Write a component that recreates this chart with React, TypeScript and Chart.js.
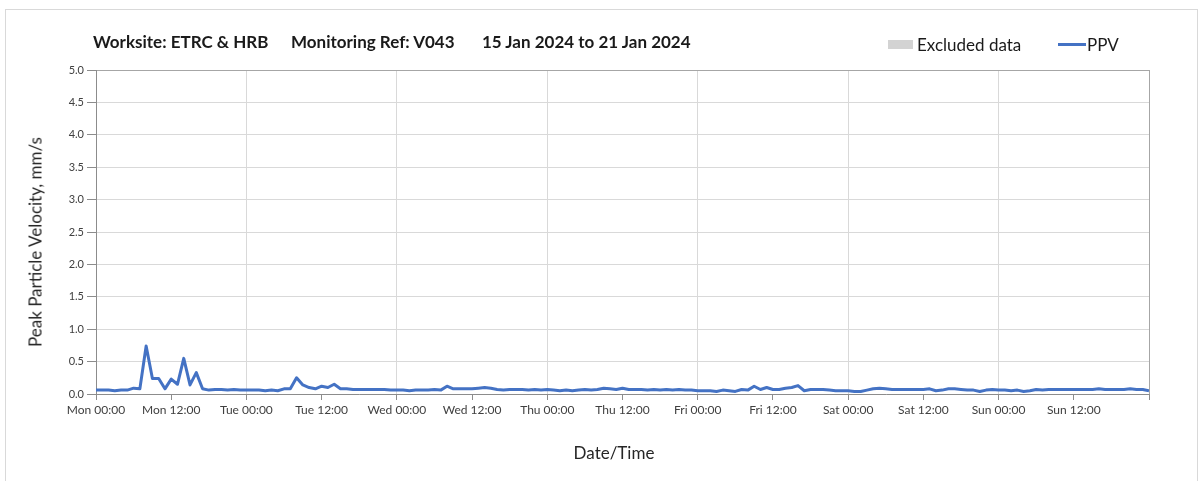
import React, { useEffect, useRef } from "react";
import { Chart, registerables } from "chart.js";

Chart.register(...registerables);

const TITLE_SITE = "Worksite: ETRC & HRB";
const TITLE_REF = "Monitoring Ref: V043";
const TITLE_DATES = "15 Jan 2024 to 21 Jan 2024";
const LEGEND_EXCLUDED = "Excluded data";
const LEGEND_PPV = "PPV";
const Y_TITLE = "Peak Particle Velocity, mm/s";
const X_TITLE = "Date/Time";

// x tick labels, every 12 hours
const TICK_LABELS = [
  "Mon 00:00", "Mon 12:00", "Tue 00:00", "Tue 12:00", "Wed 00:00", "Wed 12:00",
  "Thu 00:00", "Thu 12:00", "Fri 00:00", "Fri 12:00", "Sat 00:00", "Sat 12:00",
  "Sun 00:00", "Sun 12:00",
];

// hourly PPV readings (mm/s), Mon 00:00 .. next Mon 00:00
const PPV_MON = [
  0.06, 0.06, 0.06, 0.05, 0.06, 0.06, 0.09, 0.08, 0.74, 0.24, 0.24, 0.08,
  0.23, 0.15, 0.55, 0.14, 0.33, 0.08, 0.06, 0.07, 0.07, 0.06, 0.07, 0.06,
];
const PPV_TUE = [
  0.06, 0.06, 0.06, 0.05, 0.06, 0.05, 0.08, 0.08, 0.25, 0.14, 0.10, 0.08,
  0.12, 0.10, 0.15, 0.08, 0.08, 0.07, 0.07, 0.07, 0.07, 0.07, 0.07, 0.06,
];
const PPV_WED = [
  0.06, 0.06, 0.05, 0.06, 0.06, 0.06, 0.07, 0.06, 0.12, 0.08, 0.08, 0.08,
  0.08, 0.09, 0.10, 0.09, 0.07, 0.06, 0.07, 0.07, 0.07, 0.06, 0.07, 0.06,
];
const PPV_THU = [
  0.07, 0.06, 0.05, 0.06, 0.05, 0.06, 0.07, 0.06, 0.07, 0.09, 0.08, 0.07,
  0.09, 0.07, 0.07, 0.07, 0.06, 0.07, 0.06, 0.07, 0.06, 0.07, 0.06, 0.06,
];
const PPV_FRI = [
  0.05, 0.05, 0.05, 0.04, 0.06, 0.05, 0.04, 0.07, 0.06, 0.12, 0.07, 0.10,
  0.07, 0.07, 0.09, 0.10, 0.13, 0.05, 0.07, 0.07, 0.07, 0.06, 0.05, 0.05,
];
const PPV_SAT = [
  0.05, 0.04, 0.04, 0.06, 0.08, 0.09, 0.08, 0.07, 0.07, 0.07, 0.07, 0.07,
  0.07, 0.08, 0.05, 0.06, 0.08, 0.08, 0.07, 0.06, 0.06, 0.04, 0.06, 0.07,
];
const PPV_SUN = [
  0.06, 0.06, 0.05, 0.06, 0.04, 0.05, 0.07, 0.06, 0.07, 0.07, 0.07, 0.07,
  0.07, 0.07, 0.07, 0.07, 0.08, 0.07, 0.07, 0.07, 0.07, 0.08, 0.07, 0.07,
];
const PPV_END = [0.05];

const PPV = [
  ...PPV_MON, ...PPV_TUE, ...PPV_WED, ...PPV_THU, ...PPV_FRI, ...PPV_SAT, ...PPV_SUN, ...PPV_END,
];

const Y_MIN = 0;
const Y_MAX = 5;
const Y_STEP = 0.5;
const X_MAX_HOURS = 168;

const FONT = "Lato, 'Open Sans', sans-serif";
const LINE_COLOR = "#4472C4";

export default function App() {
  const canvasRef = useRef<HTMLCanvasElement | null>(null);

  useEffect(() => {
    if (!canvasRef.current) return;
    const chart = new Chart(canvasRef.current, {
      type: "line",
      data: {
        datasets: [
          {
            label: LEGEND_PPV,
            data: PPV.map((v, i) => ({ x: i, y: v })),
            borderColor: LINE_COLOR,
            backgroundColor: LINE_COLOR,
            borderWidth: 3,
            pointRadius: 0,
            tension: 0,
            borderJoinStyle: "round",
          },
        ],
      },
      options: {
        animation: false,
        responsive: false,
        maintainAspectRatio: false,
        layout: { padding: { left: 0, top: 70, right: 54, bottom: 0 } },
        plugins: {
          legend: { display: false },
          title: { display: false },
          tooltip: { enabled: false },
        },
        scales: {
          x: {
            type: "linear",
            min: 0,
            max: X_MAX_HOURS,
            afterFit: (scale: any) => {
              scale.height = 87;
            },
            ticks: {
              stepSize: 12,
              autoSkip: false,
              maxRotation: 0,
              padding: 3,
              color: "#404040",
              font: { family: FONT, size: 12 },
              callback: (value: any) => {
                const idx = Math.round(Number(value) / 12);
                return TICK_LABELS[idx] ?? "";
              },
            },
            grid: {
              drawTicks: true,
              tickLength: 6,
              tickColor: "#8c8c8c",
              color: (ctx: any) => {
                const v = ctx.tick ? ctx.tick.value : null;
                if (v === X_MAX_HOURS) return "#a6a6a6";
                if (v !== null && v % 24 === 0) return "#d9d9d9";
                return "rgba(0,0,0,0)";
              },
            },
            border: { display: true, color: "#8c8c8c", width: 1 },
          },
          y: {
            min: Y_MIN,
            max: Y_MAX,
            afterFit: (scale: any) => {
              scale.width = 96;
            },
            ticks: {
              stepSize: Y_STEP,
              padding: 3,
              color: "#404040",
              font: { family: FONT, size: 11 },
              callback: (value: any) => Number(value).toFixed(1),
            },
            grid: {
              drawTicks: true,
              tickLength: 9,
              tickColor: "#8c8c8c",
              color: (ctx: any) => {
                const v = ctx.tick ? ctx.tick.value : null;
                if (v === Y_MAX) return "#a6a6a6";
                return "#d9d9d9";
              },
            },
            border: { display: true, color: "#8c8c8c", width: 1 },
          },
        },
      },
    });
    return () => chart.destroy();
  }, []);

  const textBase: React.CSSProperties = {
    position: "absolute",
    fontFamily: FONT,
    whiteSpace: "pre",
    color: "#1a1a1a",
    lineHeight: 1,
  };

  return (
    <div
      style={{
        position: "fixed",
        left: 0,
        top: 0,
        width: 1203,
        height: 481,
        background: "#ffffff",
        overflow: "hidden",
      }}
    >
      <div
        style={{
          position: "absolute",
          left: 5,
          top: 9,
          width: 1193,
          height: 480,
          border: "1px solid #d9d9d9",
          boxSizing: "border-box",
        }}
      />
      <canvas
        ref={canvasRef}
        width={1203}
        height={481}
        style={{ position: "absolute", left: 0, top: 0, width: 1203, height: 481 }}
      />
      <span style={{ ...textBase, left: 93, top: 33, fontSize: 17, fontWeight: 700 }}>{TITLE_SITE}</span>
      <span style={{ ...textBase, left: 291, top: 33, fontSize: 17, fontWeight: 700 }}>{TITLE_REF}</span>
      <span style={{ ...textBase, left: 482, top: 33, fontSize: 17, fontWeight: 700 }}>{TITLE_DATES}</span>

      <div style={{ position: "absolute", left: 888, top: 40, width: 25, height: 9, background: "#d3d3d3" }} />
      <span style={{ ...textBase, left: 917, top: 36, fontSize: 17 }}>{LEGEND_EXCLUDED}</span>
      <div style={{ position: "absolute", left: 1058, top: 43, width: 28, height: 3, background: LINE_COLOR }} />
      <span style={{ ...textBase, left: 1087, top: 36, fontSize: 17 }}>{LEGEND_PPV}</span>

      <span
        style={{
          ...textBase,
          left: 35,
          top: 242,
          fontSize: 17,
          color: "#262626",
          transform: "translate(-50%, -50%) rotate(-90deg)",
        }}
      >
        {Y_TITLE}
      </span>
      <span
        style={{
          ...textBase,
          left: 614,
          top: 452,
          fontSize: 17,
          color: "#262626",
          transform: "translate(-50%, -50%)",
        }}
      >
        {X_TITLE}
      </span>
    </div>
  );
}
